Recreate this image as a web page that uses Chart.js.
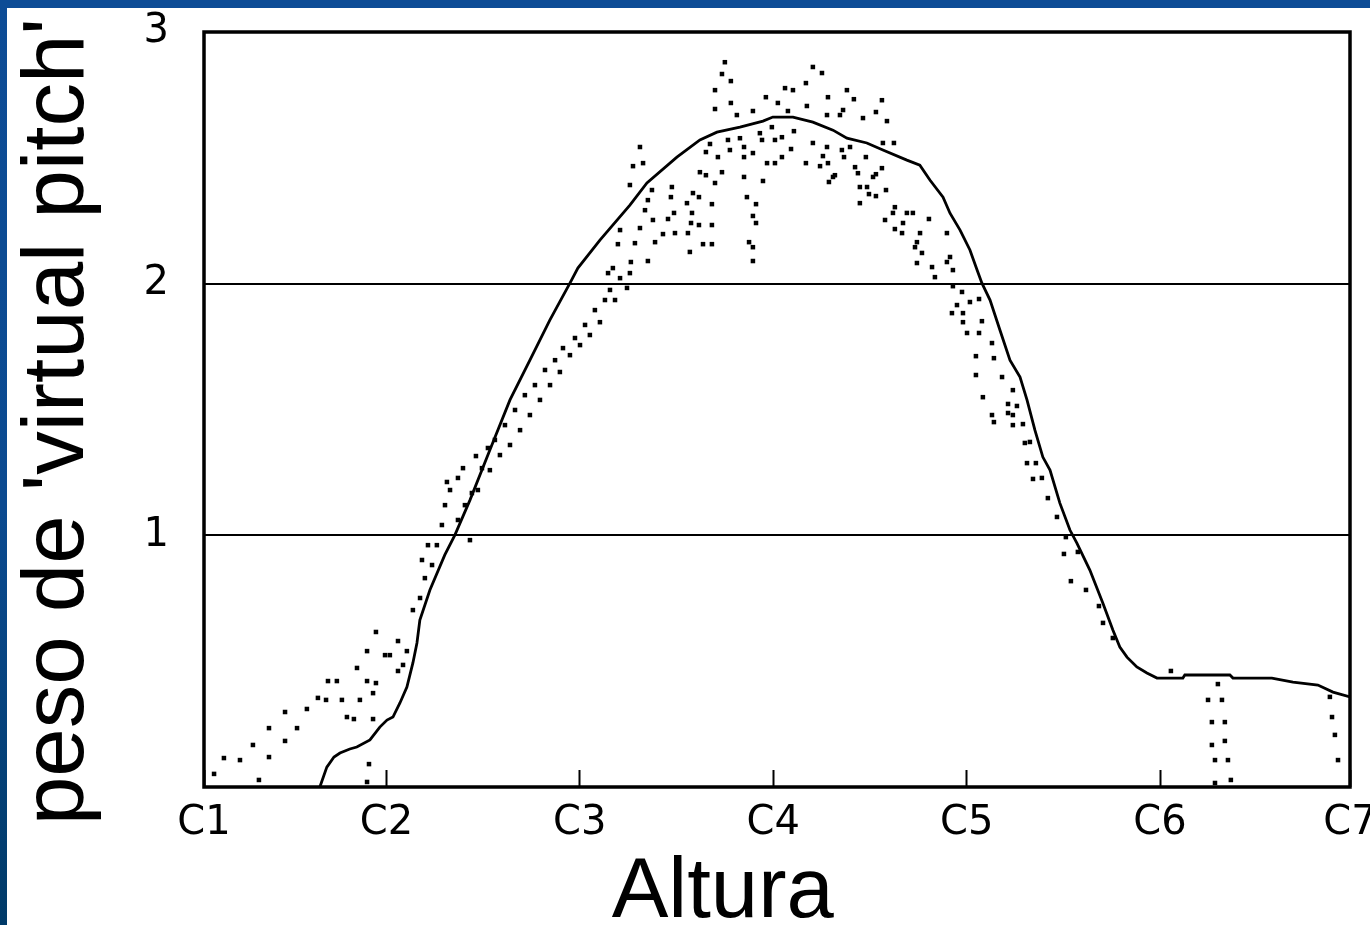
<!DOCTYPE html>
<html>
<head>
<meta charset="utf-8">
<script src="https://cdn.jsdelivr.net/npm/chart.js@4.4.1/dist/chart.umd.min.js"></script>
<style>
  html, body { margin: 0; padding: 0; width: 1370px; height: 925px; overflow: hidden; }
  body { background: linear-gradient(180deg, #0d4c96 0%, #0b4a90 55%, #003a68 100%); position: relative; }
  #wrap { position: absolute; left: 7px; top: 8px; width: 1363px; height: 917px; background: #ffffff; }
  canvas { display: block; }
</style>
</head>
<body>
<div id="wrap"><canvas id="c" width="1363" height="917"></canvas></div>
<script>
// ---------- data (x in octaves: C1 = 1 ... C7 = 7, y = virtual pitch weight) ----------
const xMin = 1.057;
const xMax = 6.982;
const xTickValues = [xMin, 2, 3, 4, 5, 6, xMax];
const xTickLabels = ['C1', 'C2', 'C3', 'C4', 'C5', 'C6', 'C7'];
const yTickValues = [1, 2, 3];
const yTickLabels = ['1', '2', '3'];
const yTitle = "peso de 'virtual pitch'";
const xTitle = 'Altura';

// solid curve (model prediction)
const curvePoints = [
  [1.656,0],[1.692,0.079],[1.729,0.119],[1.760,0.135],[1.811,0.151],[1.847,0.159],
  [1.915,0.187],[1.966,0.238],[2.003,0.266],[2.034,0.278],[2.070,0.334],[2.106,0.397],
  [2.137,0.493],[2.158,0.572],[2.173,0.663],[2.225,0.783],[2.302,0.922],[2.354,1.001],
  [2.432,1.140],[2.535,1.339],[2.639,1.538],[2.742,1.696],[2.845,1.855],[2.949,2.002],
  [2.990,2.062],[3.104,2.173],[3.259,2.312],[3.347,2.400],[3.502,2.503],[3.621,2.571],
  [3.709,2.602],[3.828,2.622],[3.947,2.646],[3.998,2.662],[4.102,2.662],[4.205,2.642],
  [4.309,2.610],[4.381,2.578],[4.484,2.559],[4.567,2.531],[4.691,2.491],[4.758,2.471],
  [4.810,2.412],[4.878,2.344],[4.914,2.280],[4.966,2.213],[5.017,2.134],[5.054,2.054],
  [5.079,2.002],[5.121,1.935],[5.172,1.816],[5.224,1.696],[5.276,1.629],[5.312,1.538],
  [5.353,1.418],[5.394,1.311],[5.431,1.259],[5.482,1.128],[5.534,1.021],[5.570,0.969],
  [5.637,0.862],[5.704,0.731],[5.756,0.624],[5.792,0.556],[5.829,0.516],[5.880,0.477],
  [5.932,0.453],[5.984,0.433],[6.118,0.433],[6.128,0.445],[6.361,0.445],[6.377,0.433],
  [6.578,0.433],[6.687,0.417],[6.816,0.405],[6.894,0.377],[6.982,0.358]
];

// dotted points (measurements), low-pitch band
const dotsLow = [
  [1.109,0.052],[1.160,0.115],[1.243,0.107],[1.310,0.167],[1.341,0.028],[1.393,0.234],
  [1.393,0.119],[1.476,0.298],[1.476,0.183],[1.538,0.234],[1.589,0.310],[1.646,0.354],
  [1.688,0.346],[1.698,0.421],[1.744,0.421],[1.770,0.346],[1.796,0.278],[1.832,0.270],
  [1.848,0.473],[1.863,0.346],[1.900,0.540],[1.900,0.421],[1.931,0.373],[1.931,0.270],
  [1.946,0.616],[1.946,0.413],[1.993,0.524],[2.018,0.524],[2.060,0.580],[2.060,0.461],
  [2.086,0.485],[2.106,0.540],[1.910,0.091],[1.900,0.020]
];
// rising band
const dotsRise = [
  [2.137,0.703],[2.174,0.751],[2.199,0.830],[2.236,0.882],[2.184,0.902],[2.261,0.961],
  [2.215,0.961],[2.287,1.041],[2.303,1.120],[2.329,1.180],[2.370,1.228],[2.313,1.212],
  [2.396,1.267],[2.442,1.168],[2.463,1.315],[2.494,1.267],[2.525,1.347],[2.370,1.061],
  [2.406,1.120],[2.473,1.180],[2.432,0.981],
  [2.535,1.259],[2.561,1.379],[2.587,1.319],[2.613,1.438],[2.639,1.359],[2.665,1.498],
  [2.691,1.418],[2.716,1.557],[2.742,1.478],[2.768,1.597],[2.794,1.538],[2.820,1.657],
  [2.846,1.597],[2.872,1.696],[2.897,1.649],[2.913,1.744],[2.949,1.716],[2.975,1.784],
  [3.001,1.756],[3.027,1.836],[3.052,1.796],[3.078,1.895],[3.104,1.847],[3.130,1.935],
  [3.156,1.975],[3.182,1.935],[3.208,2.022],[3.244,1.983]
];
// top band around C4
const dotsTop = [
  [3.750,2.880],[3.735,2.833],[3.781,2.805],[3.699,2.769],[3.699,2.694],[3.781,2.718],
  [3.812,2.670],[3.895,2.686],[3.962,2.741],[4.024,2.718],[4.061,2.777],[4.102,2.769],
  [4.169,2.797],[4.174,2.706],[4.205,2.861],[4.252,2.837],[4.283,2.741],[4.381,2.769],
  [4.417,2.733],[4.562,2.729],[4.076,2.686],[4.278,2.670],[4.361,2.690],[4.345,2.670],
  [4.464,2.658],[4.531,2.682],[4.588,2.646],
  [3.311,2.543],[3.275,2.467],[3.327,2.479],[3.259,2.392],[3.673,2.555],[3.652,2.523],
  [3.714,2.503],[3.766,2.571],[3.776,2.531],[3.828,2.578],[3.849,2.543],[3.849,2.503],
  [3.895,2.519],[3.931,2.598],[3.942,2.571],[3.993,2.622],[4.009,2.571],[4.045,2.582],
  [4.045,2.503],[4.107,2.606],[4.092,2.535],[3.968,2.479],[4.009,2.479],[4.169,2.479],
  [4.205,2.559],[4.278,2.543],[4.257,2.507],[4.242,2.467],[4.283,2.479],[4.355,2.531],
  [4.397,2.543],[4.366,2.503],[4.479,2.503],[4.423,2.463],[4.438,2.439],[4.562,2.459],
  [4.516,2.424],[4.531,2.435],[4.319,2.431],[4.288,2.404],[4.567,2.559],[4.624,2.559],
  [3.621,2.443],[3.652,2.431],[3.735,2.443],[3.699,2.400],[3.849,2.424],[3.947,2.408],
  [3.616,2.344],[3.585,2.360],[3.683,2.316],[3.554,2.320],[3.476,2.384],[3.471,2.344],
  [3.373,2.372],[3.352,2.332],[3.337,2.292],[3.378,2.253],[3.456,2.257],[3.487,2.281],
  [3.580,2.281],[3.575,2.241],[3.616,2.233],[3.683,2.233],[3.559,2.201],[3.492,2.201],
  [3.430,2.197],[3.389,2.165],[3.285,2.161],[3.197,2.157],[3.208,2.213],[3.311,2.221],
  [3.569,2.126],[3.637,2.157],[3.683,2.157],[3.864,2.344],[3.911,2.316],[3.895,2.269],
  [3.911,2.241],[3.875,2.165],[3.895,2.145],[3.895,2.090],[3.352,2.090],[3.264,2.086],
  [3.259,2.042],[3.171,2.062],[3.146,2.042],
  [4.448,2.384],[4.485,2.384],[4.495,2.356],[4.531,2.348],[4.583,2.372],[4.448,2.320],
  [4.309,2.424],[4.629,2.304],[4.619,2.281],[4.578,2.253],[4.691,2.281],[4.722,2.281],
  [4.671,2.241],[4.629,2.217],[4.666,2.201],[4.805,2.257],[4.759,2.201],[4.898,2.201],
  [4.743,2.165],[4.733,2.145],[4.769,2.122],[4.743,2.082],[4.821,2.066],[4.898,2.086],
  [4.836,2.026]
];
// falling band
const dotsFall = [
  [4.929,2.054],[4.914,2.106],[4.929,1.990],[4.976,1.967],[4.950,1.915],[5.017,1.927],
  [5.064,1.939],[4.924,1.883],[4.981,1.883],[4.981,1.847],[5.079,1.851],[5.002,1.804],
  [5.064,1.804],[5.131,1.764],[5.048,1.712],[5.141,1.704],[5.048,1.637],[5.183,1.629],
  [5.084,1.549],[5.239,1.577],[5.214,1.522],[5.260,1.514],[5.214,1.486],[5.131,1.478],
  [5.141,1.450],[5.239,1.478],[5.239,1.438],[5.291,1.442],[5.301,1.367],[5.327,1.371],
  [5.312,1.287],[5.358,1.287],[5.343,1.224],[5.389,1.228],[5.420,1.148],[5.467,1.073],
  [5.513,0.993],[5.503,0.926],[5.575,0.934],[5.539,0.818],[5.617,0.783],[5.684,0.719],
  [5.705,0.652],[5.756,0.592]
];
// high-pitch band
const dotsHigh = [
  [6.056,0.461],[6.299,0.409],[6.248,0.346],[6.320,0.346],[6.268,0.258],[6.335,0.258],
  [6.268,0.167],[6.335,0.183],[6.284,0.107],[6.351,0.107],[6.284,0.016],[6.366,0.028],
  [6.878,0.358],[6.889,0.278],[6.904,0.207],[6.920,0.107]
];

const toXY = arr => arr.map(p => ({x: p[0], y: p[1]}));
const allDots = [].concat(dotsLow, dotsRise, dotsTop, dotsFall, dotsHigh);

const framePlugin = {
  id: 'frame',
  afterDatasetsDraw(chart) {
    const a = chart.chartArea;
    const ctx = chart.ctx;
    ctx.save();
    ctx.strokeStyle = '#000';
    ctx.lineWidth = 3.5;
    ctx.strokeRect(a.left, a.top, a.right - a.left, a.bottom - a.top);
    ctx.restore();
  }
};

const FONT = '"Liberation Sans", Arial, sans-serif';
const TICKFONT = '"DejaVu Sans", "Liberation Sans", sans-serif';

new Chart(document.getElementById('c'), {
  type: 'scatter',
  data: {
    datasets: [
      {
        label: 'modelo',
        data: toXY(curvePoints),
        showLine: true,
        borderColor: '#000',
        borderWidth: 2.8,
        pointRadius: 0,
        tension: 0,
        order: 1
      },
      {
        label: 'datos',
        data: toXY(allDots),
        showLine: false,
        pointStyle: 'rect',
        pointRadius: 3.2,
        pointBackgroundColor: '#000',
        pointBorderWidth: 0,
        order: 2
      }
    ]
  },
  options: {
    responsive: false,
    animation: false,
    devicePixelRatio: 1,
    layout: { padding: { left: 0, right: 20, top: 24, bottom: 0 } },
    plugins: { legend: { display: false }, tooltip: { enabled: false } },
    scales: {
      x: {
        type: 'linear',
        min: xMin,
        max: xMax,
        afterBuildTicks(scale) { scale.ticks = xTickValues.map(v => ({ value: v })); },
        afterFit(scale) { scale.height = 138; scale.paddingLeft = 0; scale.paddingRight = 0; },
        border: { display: false },
        grid: {
          drawOnChartArea: false,
          drawTicks: true,
          tickLength: -17,
          tickWidth: 2,
          tickColor: '#000',
          color: '#000'
        },
        ticks: {
          autoSkip: false,
          maxRotation: 0,
          padding: 30,
          color: '#000',
          font: { family: TICKFONT, size: 40 },
          callback: (v, i) => xTickLabels[i]
        },
        title: {
          display: true,
          text: xTitle + '\u2002\u2002 ',
          color: '#000',
          font: { family: FONT, size: 85, lineHeight: 0.75 },
          padding: { top: 0, bottom: 0 }
        }
      },
      y: {
        type: 'linear',
        min: 0,
        max: 3,
        afterBuildTicks(scale) { scale.ticks = yTickValues.map(v => ({ value: v })); },
        afterFit(scale) { scale.width = 197; scale.paddingTop = 0; scale.paddingBottom = 0; },
        border: { display: false },
        grid: {
          drawOnChartArea: true,
          drawTicks: false,
          color: '#000',
          lineWidth: 2
        },
        ticks: {
          padding: 35,
          color: '#000',
          font: { family: TICKFONT, size: 40 },
          callback: (v, i) => yTickLabels[i]
        },
        title: {
          display: true,
          text: yTitle + ' ',
          color: '#000',
          font: { family: FONT, size: 87, lineHeight: 1 },
          padding: { top: 9, bottom: 0 }
        }
      }
    }
  },
  plugins: [framePlugin]
});
</script>
</body>
</html>
